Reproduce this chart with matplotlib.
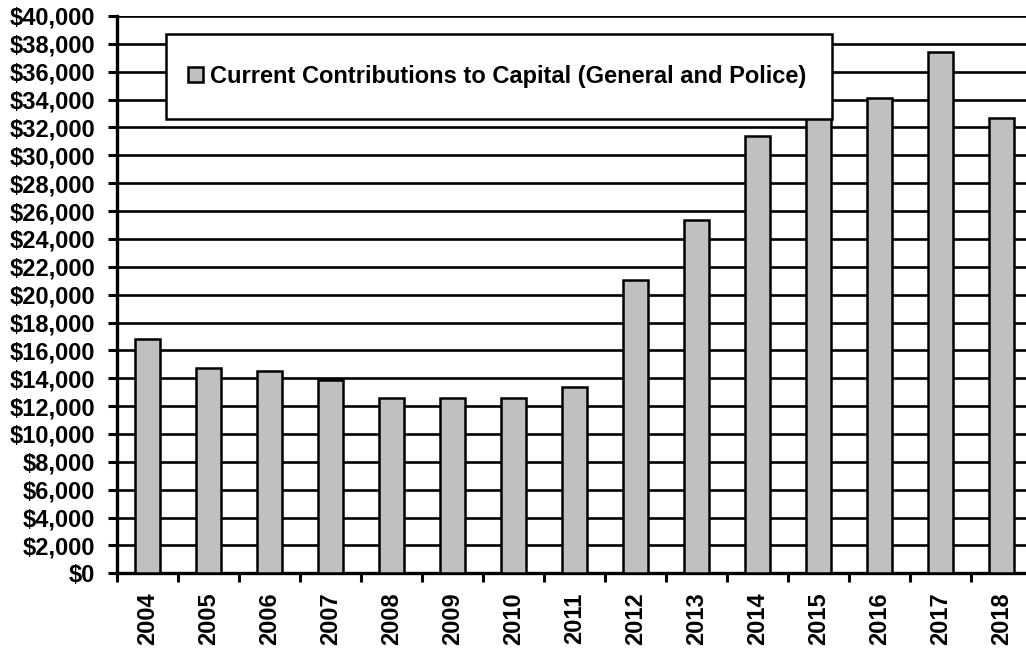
import matplotlib.pyplot as plt
from matplotlib.patches import Rectangle
from matplotlib.ticker import FuncFormatter, MultipleLocator
import numpy as np

# data
years = ['2004', '2005', '2006', '2007', '2008', '2009', '2010', '2011',
         '2012', '2013', '2014', '2015', '2016', '2017', '2018']
contributions = [16800, 14750, 14500, 13900, 12600, 12600, 12600, 13400,
                 21050, 25350, 31400, 33000, 34100, 37400, 32700]
series_label = 'Current Contributions to Capital (General and Police)'

BAR_COLOR = '#C0C0C0'

plt.rcParams['font.family'] = ['Liberation Sans', 'DejaVu Sans']
plt.rcParams['font.weight'] = 'bold'

W, H = 1026, 650
fig = plt.figure(figsize=(W / 100, H / 100), dpi=100)
ax = fig.add_axes([117 / W, (H - 573.3) / H, (1032 - 117) / W, (573.3 - 16) / H])

x = np.arange(len(years))
ax.bar(x, contributions, width=0.41, color=BAR_COLOR, edgecolor='black',
       linewidth=1.8, zorder=3, label=series_label)

ax.set_xlim(-0.5, len(years) - 0.5)
ax.set_ylim(0, 40000)
ax.yaxis.set_major_locator(MultipleLocator(2000))
ax.yaxis.set_major_formatter(FuncFormatter(lambda v, p: f'${v:,.0f}'))
ax.grid(axis='y', color='black', linewidth=1.9, zorder=0)
ax.set_axisbelow(True)

# category labels centred, ticks between categories
ax.set_xticks(x)
ax.set_xticklabels(years, rotation=90, fontsize=17, fontweight='bold')
ax.tick_params(axis='x', length=0, pad=14)
ax.set_xticks(np.arange(len(years) + 1) - 0.5, minor=True)
ax.tick_params(axis='x', which='minor', length=6.5, width=2.2, direction='out')
ax.tick_params(axis='y', labelsize=17, length=6.5, width=2.2, pad=9)
for lbl in ax.get_yticklabels():
    lbl.set_fontweight('bold')

for side in ['top', 'right']:
    ax.spines[side].set_visible(False)
ax.spines['left'].set_linewidth(2.4)
ax.spines['bottom'].set_linewidth(2.4)

# legend box drawn over the gridlines
x0, x1, y0, y1 = 166, 832, 34, 119
box = Rectangle((x0 / W, 1 - y1 / H), (x1 - x0) / W, (y1 - y0) / H,
                transform=fig.transFigure, facecolor='white', edgecolor='black',
                linewidth=1.8, zorder=4, clip_on=False)
ax.add_patch(box)
leg = ax.legend(loc='center left', bbox_to_anchor=(188 / W, 1 - 76.5 / H),
                bbox_transform=fig.transFigure, frameon=False, fontsize=17,
                handlelength=0.62, handleheight=0.62, handletextpad=0.3,
                borderpad=0, borderaxespad=0)
leg.set_zorder(5)
for t in leg.get_texts():
    t.set_fontweight('bold')

plt.savefig('out.png', dpi=100, facecolor='white')
